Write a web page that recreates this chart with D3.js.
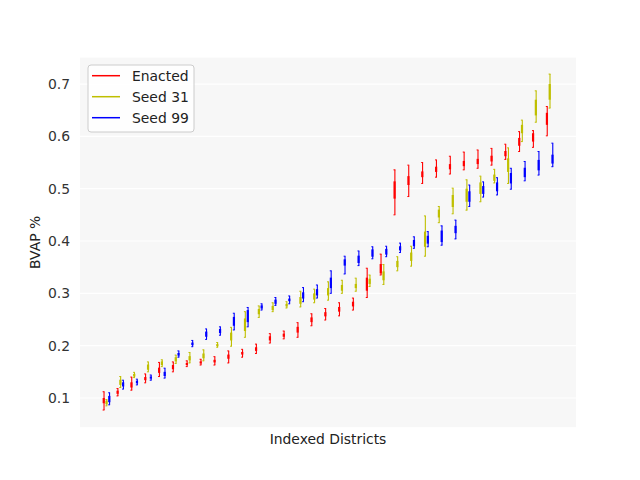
<!DOCTYPE html>
<html>
<head>
<meta charset="utf-8">
<script src="https://d3js.org/d3.v7.min.js"></script>
<style>
  body { margin: 0; background: #fff; }
  text { font-family: "DejaVu Sans", sans-serif; }
</style>
</head>
<body>
<div id="chart"></div>
<script>
// BVAP spread per indexed district: enacted plan vs two seeded ensembles

var seriesNames = ["Enacted", "Seed 31", "Seed 99"];
var seriesColors = ["#ff0000", "#bfbf00", "#0000ff"];
var yTicks = [0.1, 0.2, 0.3, 0.4, 0.5, 0.6, 0.7];

// enacted
var enactedLo = [.077,.104,.115,.129,.141,.150,.160,.163,.163,.167,.178,.185,.205,.213,.216,.238,.249,.257,.268,.292,.335,.450,.485,.510,.522,.528,.536,.539,.545,.556,.571,.579,.601];
var enactedQ1 = [.090,.108,.120,.134,.148,.155,.163,.166,.168,.175,.183,.190,.210,.217,.225,.245,.256,.265,.275,.305,.338,.481,.507,.522,.532,.537,.543,.547,.552,.562,.582,.590,.622];
var enactedQ3 = [.100,.114,.130,.140,.158,.163,.167,.170,.173,.183,.188,.197,.218,.223,.236,.254,.264,.274,.284,.330,.356,.514,.524,.533,.542,.547,.553,.557,.563,.572,.597,.606,.645];
var enactedHi = [.112,.118,.140,.146,.168,.169,.171,.174,.179,.190,.193,.203,.223,.228,.244,.261,.271,.282,.291,.348,.375,.536,.545,.550,.555,.562,.570,.574,.577,.585,.609,.611,.657];

// seed 31
var seed31Lo = [.085,.120,.139,.150,.160,.166,.167,.171,.197,.199,.216,.254,.265,.272,.274,.282,.287,.300,.304,.313,.317,.343,.352,.371,.435,.452,.459,.475,.511,.510,.590,.627,.654];
var seed31Q1 = [.088,.125,.141,.154,.163,.170,.172,.176,.199,.210,.228,.260,.268,.275,.280,.288,.296,.305,.310,.318,.325,.350,.362,.389,.445,.465,.475,.490,.515,.532,.606,.640,.670];
var seed31Q3 = [.095,.135,.146,.164,.170,.178,.180,.185,.203,.225,.252,.270,.276,.280,.293,.300,.310,.316,.318,.328,.342,.362,.378,.418,.460,.488,.500,.512,.527,.558,.622,.670,.700];
var seed31Hi = [.097,.141,.149,.169,.173,.182,.187,.192,.206,.235,.265,.276,.282,.284,.304,.308,.322,.325,.329,.335,.355,.370,.390,.448,.466,.501,.517,.524,.537,.578,.631,.687,.719];

// seed 99
var seed99Lo = [.087,.117,.125,.134,.138,.178,.198,.212,.220,.230,.236,.268,.277,.280,.284,.291,.300,.337,.353,.366,.370,.378,.386,.389,.392,.404,.466,.484,.488,.499,.515,.526,.542];
var seed99Q1 = [.092,.122,.128,.137,.142,.181,.201,.217,.224,.238,.245,.271,.280,.285,.290,.296,.310,.353,.358,.370,.374,.382,.390,.395,.398,.415,.475,.490,.495,.510,.522,.535,.548];
var seed99Q3 = [.104,.130,.133,.141,.150,.186,.206,.227,.232,.255,.268,.277,.288,.290,.302,.308,.330,.365,.372,.384,.385,.390,.402,.410,.420,.429,.495,.505,.512,.530,.540,.555,.565];
var seed99Hi = [.110,.134,.136,.144,.157,.190,.210,.232,.236,.262,.273,.280,.292,.295,.311,.316,.343,.371,.381,.389,.390,.396,.408,.418,.429,.440,.507,.513,.521,.539,.552,.571,.587];

var offsets = [0, 0.2, 0.4];

var width = 640, height = 480;
var margin = {top: 57.6, right: 64, bottom: 52.8, left: 80};
var innerW = width - margin.left - margin.right;
var innerH = height - margin.top - margin.bottom;

var svg = d3.select("#chart").append("svg")
    .attr("width", width)
    .attr("height", height);

var g = svg.append("g")
    .attr("transform", "translate(" + margin.left + "," + margin.top + ")");

var x = d3.scaleLinear().domain([-0.706, 35.106]).range([0, innerW]);
var y = d3.scaleLinear().domain([0.0442, 0.7505]).range([innerH, 0]);

g.append("rect")
    .attr("width", innerW)
    .attr("height", innerH)
    .attr("fill", "#f7f7f7");

// horizontal grid
g.selectAll(".grid")
    .data(yTicks)
    .enter().append("line")
    .attr("x1", 0).attr("x2", innerW)
    .attr("y1", function(d) { return y(d); })
    .attr("y2", function(d) { return y(d); })
    .attr("stroke", "#ffffff")
    .attr("stroke-width", 1.2);

var yAxis = d3.axisLeft(y).tickValues(yTicks).tickSize(0).tickPadding(10)
    .tickFormat(d3.format(".1f"));
var ya = g.append("g").call(yAxis);
ya.select(".domain").remove();
ya.selectAll("text")
    .attr("fill", "#333")
    .style("font-size", "13.9px");

var series = [
    {lo: enactedLo, q1: enactedQ1, q3: enactedQ3, hi: enactedHi},
    {lo: seed31Lo, q1: seed31Q1, q3: seed31Q3, hi: seed31Hi},
    {lo: seed99Lo, q1: seed99Q1, q3: seed99Q3, hi: seed99Hi}
];

series.forEach(function(s, k) {
    var rows = s.lo.map(function(d, i) {
        return {pos: i + 1 + offsets[k], lo: s.lo[i], q1: s.q1[i], q3: s.q3[i], hi: s.hi[i]};
    });
    var col = seriesColors[k];
    var box = g.append("g").attr("class", "series-" + k)
        .selectAll("g").data(rows).enter().append("g");

    // whisker
    box.append("line")
        .attr("x1", function(d) { return x(d.pos) + 0.4; })
        .attr("x2", function(d) { return x(d.pos) + 0.4; })
        .attr("y1", function(d) { return y(d.lo); })
        .attr("y2", function(d) { return y(d.hi); })
        .attr("stroke", col)
        .attr("stroke-width", 1.1);

    // caps
    box.selectAll(".cap")
        .data(function(d) { return [{pos: d.pos, v: d.lo}, {pos: d.pos, v: d.hi}]; })
        .enter().append("line")
        .attr("x1", function(d) { return x(d.pos) - 1.0; })
        .attr("x2", function(d) { return x(d.pos) + 0.9; })
        .attr("y1", function(d) { return y(d.v); })
        .attr("y2", function(d) { return y(d.v); })
        .attr("stroke", col)
        .attr("stroke-width", 1.0);

    // box q1..q3
    box.append("rect")
        .attr("x", function(d) { return x(d.pos) - 1.0; })
        .attr("width", 2.2)
        .attr("y", function(d) { return y(d.q3); })
        .attr("height", function(d) { return y(d.q1) - y(d.q3); })
        .attr("fill", col);
});

// axis labels
svg.append("text")
    .attr("x", margin.left + innerW / 2)
    .attr("y", 444)
    .attr("text-anchor", "middle")
    .style("font-size", "13.9px")
    .attr("fill", "#222")
    .text("Indexed Districts");

svg.append("text")
    .attr("transform", "translate(40," + (margin.top + innerH / 2) + ") rotate(-90)")
    .attr("text-anchor", "middle")
    .style("font-size", "13.9px")
    .attr("fill", "#222")
    .text("BVAP %");

// legend
var legend = svg.append("g").attr("transform", "translate(88,65)");
legend.append("rect")
    .attr("width", 106)
    .attr("height", 67)
    .attr("rx", 3)
    .attr("fill", "#ffffff")
    .attr("fill-opacity", 0.8)
    .attr("stroke", "#cccccc");

var item = legend.selectAll(".item")
    .data(seriesNames)
    .enter().append("g")
    .attr("transform", function(d, i) { return "translate(0," + (10.7 + i * 21) + ")"; });

item.append("line")
    .attr("x1", 4).attr("x2", 32)
    .attr("stroke", function(d, i) { return seriesColors[i]; })
    .attr("stroke-width", 1.5);

item.append("text")
    .attr("x", 44)
    .attr("dy", "0.35em")
    .style("font-size", "13.9px")
    .attr("fill", "#222")
    .text(function(d) { return d; });
</script>
</body>
</html>
